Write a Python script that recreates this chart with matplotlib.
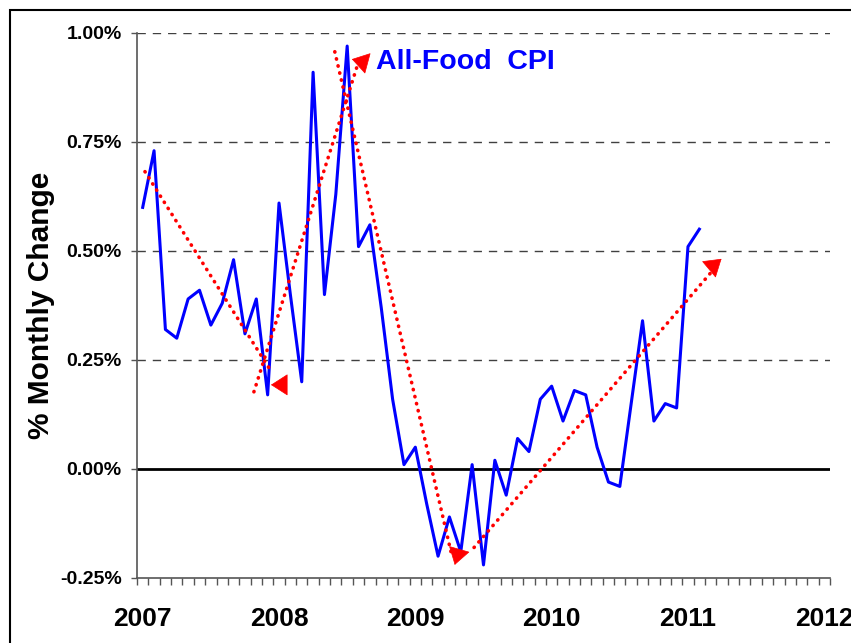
import numpy as np
import matplotlib
matplotlib.use("Agg")
import matplotlib.pyplot as plt
from matplotlib.patches import Rectangle

plt.rcParams['font.family'] = ['Liberation Sans', 'DejaVu Sans']
plt.rcParams['font.weight'] = 'bold'

# monthly % change in the all-food CPI, Jan 2007 - Feb 2011
cpi_change = [0.60, 0.73, 0.32, 0.30, 0.39, 0.41, 0.33, 0.38, 0.48, 0.31, 0.39, 0.17,   # 2007
              0.61, 0.40, 0.20, 0.91, 0.40, 0.63, 0.97, 0.51, 0.56, 0.37, 0.16, 0.01,   # 2008
              0.05, -0.08, -0.20, -0.11, -0.19, 0.01, -0.22, 0.02, -0.06, 0.07, 0.04, 0.16,  # 2009
              0.19, 0.11, 0.18, 0.17, 0.05, -0.03, -0.04, 0.15, 0.34, 0.11, 0.15, 0.14,  # 2010
              0.51, 0.55]                                                                # 2011
years = ["2007", "2008", "2009", "2010", "2011", "2012"]
n_slots = 61          # category slots on the axis (Jan 2007 .. Jan 2012)
y_ticks = [-0.25, 0.0, 0.25, 0.50, 0.75, 1.00]

# trend arrows: dotted line (start -> end), head tip and head direction (deg, screen)
trend_start = [(0.70, 0.682), (10.29, 0.177), (17.41, 0.957), (29.67, -0.180)]
trend_end = [(11.9, 0.22), (19.44, 0.929), (27.7, -0.197), (50.57, 0.452)]
head_tip = [(11.79, 0.193), (18.91, 0.940), (27.97, -0.220), (51.45, 0.482)]
head_angle = [180, 165, -106, 40]

fig = plt.figure(figsize=(8.51, 6.43), dpi=100)
ax = fig.add_axes([0.161, 0.1011, 0.9753 - 0.161, 0.9487 - 0.1011])

# outer chart frame
fig.patches.append(Rectangle((10 / 851, -0.1), 1.2, 1.1 - 10 / 643, transform=fig.transFigure,
                             fill=False, edgecolor='black', lw=1.5))

x = np.arange(len(cpi_change)) + 0.5
for yv in y_ticks:
    if yv == 0.0:
        ax.axhline(yv, color='black', lw=2.0, zorder=2)
    elif yv > 0:
        ax.axhline(yv, color='#404040', lw=1.0, linestyle=(0, (6, 5)), zorder=1)

ax.plot(x, cpi_change, color='#0000FF', lw=2.2, zorder=4)

for (x0, y0), (x1, y1), tip, ang in zip(trend_start, trend_end, head_tip, head_angle):
    ax.plot([x0, x1], [y0, y1], color='#FF0000', lw=2.6, linestyle=(0, (0.1, 1.9)),
            dash_capstyle='round', zorder=5)
    a = np.deg2rad(ang)
    ax.annotate('', xy=tip, xytext=(-10 * np.cos(a), -10 * np.sin(a)), textcoords='offset points',
                arrowprops=dict(arrowstyle='-|>,head_length=0.7,head_width=0.45', color='#FF0000',
                                lw=0.5, mutation_scale=16, shrinkA=0, shrinkB=0), zorder=6)

# series label, placed in figure pixels as in the source chart
fig.text(465 / 851, 1 - 62 / 643, "All-Food  CPI", color='#0000FF', fontsize=20.5,
         fontweight='bold', ha='center', va='center')

ax.set_xlim(0, n_slots)
ax.set_ylim(-0.25, 1.0)
ax.set_yticks(y_ticks)
ax.set_yticklabels(["{:.2f}%".format(v) for v in y_ticks], fontsize=14, fontweight='bold')
ax.set_xticks([12 * k + 0.5 for k in range(len(years))])
ax.set_xticklabels(years, fontsize=19, fontweight='bold')
ax.set_xticks(np.arange(0, n_slots + 1), minor=True)
ax.tick_params(axis='x', which='major', length=0, pad=21)
ax.tick_params(axis='x', which='minor', length=5, width=1, color='#555555', direction='out')
ax.tick_params(axis='y', length=4, width=1, color='#555555', direction='out', pad=7)

for side in ['top', 'right']:
    ax.spines[side].set_visible(False)
for side in ['left', 'bottom']:
    ax.spines[side].set_color('#555555')
    ax.spines[side].set_linewidth(1.2)

ax.set_ylabel("% Monthly Change", fontsize=21.5, fontweight='bold')
ax.yaxis.set_label_coords(-0.118, 0.5)

fig.savefig("out.png", dpi=100)
